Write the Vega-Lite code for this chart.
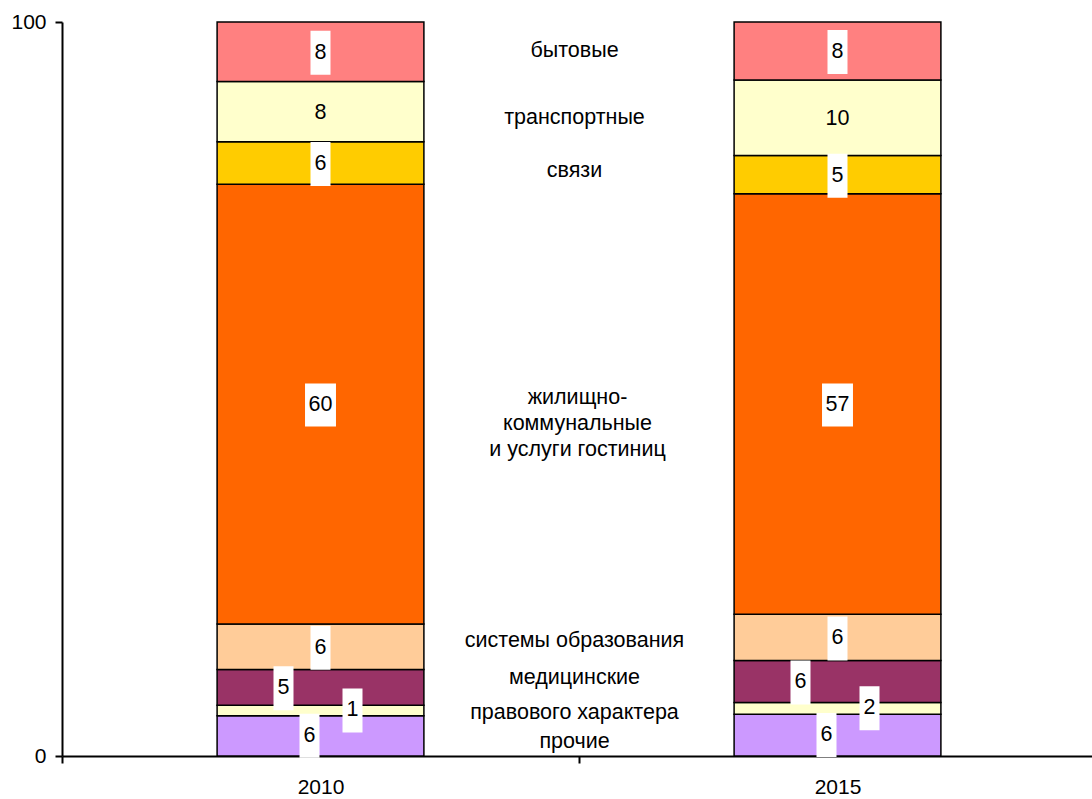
{
  "$schema": "https://vega.github.io/schema/vega-lite/v6.json",
  "width": 1030,
  "height": 734,
  "autosize": {"type": "none"},
  "padding": {"left": 62, "top": 22, "right": 0, "bottom": 43},
  "background": "white",
  "config": {
    "view": {"stroke": null},
    "font": "Liberation Sans",
    "axis": {
      "labelFont": "Liberation Sans",
      "labelFontSize": 21,
      "labelColor": "black",
      "domainColor": "black",
      "tickColor": "black",
      "domainWidth": 2,
      "tickWidth": 2,
      "tickSize": 7,
      "grid": false
    },
    "text": {"fontSize": 21.5, "color": "black", "baseline": "middle", "align": "center"}
  },
  "data": {
    "values": [
      {"year": "2010", "cat": "прочие", "value": 5.5},
      {"year": "2010", "cat": "правового характера", "value": 1.4},
      {"year": "2010", "cat": "медицинские", "value": 4.9},
      {"year": "2010", "cat": "системы образования", "value": 6.2},
      {"year": "2010", "cat": "жилищно-\nкоммунальные\nи услуги гостиниц", "value": 59.9},
      {"year": "2010", "cat": "связи", "value": 5.8},
      {"year": "2010", "cat": "транспортные", "value": 8.2},
      {"year": "2010", "cat": "бытовые", "value": 8.1},
      {"year": "2015", "cat": "прочие", "value": 5.7},
      {"year": "2015", "cat": "правового характера", "value": 1.6},
      {"year": "2015", "cat": "медицинские", "value": 5.7},
      {"year": "2015", "cat": "системы образования", "value": 6.3},
      {"year": "2015", "cat": "жилищно-\nкоммунальные\nи услуги гостиниц", "value": 57.3},
      {"year": "2015", "cat": "связи", "value": 5.2},
      {"year": "2015", "cat": "транспортные", "value": 10.3},
      {"year": "2015", "cat": "бытовые", "value": 7.9}
    ]
  },
  "transform": [
    {"window": [{"op": "row_number", "as": "rank"}], "groupby": ["year"]},
    {"stack": "value", "groupby": ["year"], "sort": [{"field": "rank", "order": "ascending"}], "as": ["y0", "y1"]},
    {"calculate": "(datum.y0 + datum.y1) / 2", "as": "mid"}
  ],
  "encoding": {
    "x": {
      "field": "year",
      "type": "nominal",
      "title": null,
      "scale": {"paddingInner": 0, "paddingOuter": 0, "range": [0, 1034]},
      "axis": {"labelAngle": 0, "tickBand": "extent", "labelPadding": 13, "labelBaseline": "top"}
    },
    "y": {"field": "mid", "type": "quantitative", "title": null}
  },
  "layer": [
    {
      "mark": {"type": "bar", "width": {"band": 0.4}, "stroke": "black", "strokeWidth": 1.5},
      "encoding": {
        "y": {
          "field": "y0",
          "type": "quantitative",
          "title": null,
          "scale": {"domain": [0, 100], "nice": false},
          "axis": {"values": [0, 100], "labelPadding": 9}
        },
        "y2": {"field": "y1"},
        "color": {
          "field": "cat",
          "type": "nominal",
          "legend": null,
          "scale": {
            "domain": ["прочие", "правового характера", "медицинские", "системы образования", "жилищно-\nкоммунальные\nи услуги гостиниц", "связи", "транспортные", "бытовые"],
            "range": ["#CC99FF", "#FFFFCC", "#993366", "#FFCC99", "#FF6600", "#FFCC00", "#FFFFCC", "#FF8080"]
          }
        }
      }
    },
    {
      "transform": [{"filter": {"field": "cat", "oneOf": ["системы образования", "связи", "бытовые"]}}],
      "mark": {"type": "point", "shape": "M-0.4545,-1L0.4545,-1L0.4545,1L-0.4545,1Z", "size": 1936, "filled": true, "color": "white", "opacity": 1, "strokeWidth": 0, "yOffset": 1},
      "encoding": {}
    },
    {
      "transform": [{"filter": {"field": "cat", "oneOf": ["жилищно-\nкоммунальные\nи услуги гостиниц"]}}],
      "mark": {"type": "point", "shape": "M-0.72,-1L0.72,-1L0.72,1L-0.72,1Z", "size": 1849, "filled": true, "color": "white", "opacity": 1, "strokeWidth": 0, "yOffset": 1},
      "encoding": {}
    },
    {
      "transform": [{"filter": {"field": "cat", "oneOf": ["системы образования", "связи", "бытовые", "транспортные", "жилищно-\nкоммунальные\nи услуги гостиниц"]}}],
      "mark": {"type": "text", "yOffset": 1},
      "encoding": {"text": {"field": "value", "type": "quantitative", "format": ".0f"}}
    },
    {
      "transform": [{"filter": {"field": "cat", "equal": "медицинские"}}],
      "layer": [
        {
          "mark": {"type": "point", "shape": "M-0.4545,-1L0.4545,-1L0.4545,1L-0.4545,1Z", "size": 1936, "filled": true, "color": "white", "opacity": 1, "strokeWidth": 0, "xOffset": -37, "yOffset": 1},
          "encoding": {}
        },
        {
          "mark": {"type": "text", "xOffset": -37, "yOffset": 1},
          "encoding": {"text": {"field": "value", "type": "quantitative", "format": ".0f"}}
        }
      ]
    },
    {
      "transform": [{"filter": {"field": "cat", "equal": "правового характера"}}],
      "layer": [
        {
          "mark": {"type": "point", "shape": "M-0.4545,-1L0.4545,-1L0.4545,1L-0.4545,1Z", "size": 1936, "filled": true, "color": "white", "opacity": 1, "strokeWidth": 0, "xOffset": 32},
          "encoding": {}
        },
        {
          "mark": {"type": "text", "xOffset": 32},
          "encoding": {"text": {"field": "value", "type": "quantitative", "format": ".0f"}}
        }
      ]
    },
    {
      "transform": [{"filter": {"field": "cat", "equal": "прочие"}}],
      "layer": [
        {
          "mark": {"type": "point", "shape": "M-0.4545,-1L0.4545,-1L0.4545,1L-0.4545,1Z", "size": 1936, "filled": true, "color": "white", "opacity": 1, "strokeWidth": 0, "xOffset": -11},
          "encoding": {}
        },
        {
          "mark": {"type": "text", "xOffset": -11},
          "encoding": {"text": {"field": "value", "type": "quantitative", "format": ".0f"}}
        }
      ]
    },
    {
      "transform": [{"filter": {"field": "year", "equal": "2015"}}],
      "layer": [
        {
          "transform": [{"filter": {"field": "cat", "oneOf": ["бытовые", "транспортные"]}}],
          "mark": {"type": "text", "xOffset": -263},
          "encoding": {"text": {"field": "cat", "type": "nominal"}}
        },
        {
          "transform": [{"filter": {"field": "cat", "equal": "связи"}}],
          "mark": {"type": "text", "xOffset": -263, "yOffset": -4},
          "encoding": {"text": {"field": "cat", "type": "nominal"}}
        },
        {
          "transform": [{"filter": {"field": "cat", "equal": "системы образования"}}],
          "mark": {"type": "text", "xOffset": -263, "yOffset": 4},
          "encoding": {"text": {"field": "cat", "type": "nominal"}}
        },
        {
          "transform": [{"filter": {"field": "cat", "equal": "медицинские"}}],
          "mark": {"type": "text", "xOffset": -263, "yOffset": -3},
          "encoding": {"text": {"field": "cat", "type": "nominal"}}
        },
        {
          "transform": [{"filter": {"field": "cat", "equal": "правового характера"}}],
          "mark": {"type": "text", "xOffset": -263, "yOffset": 5},
          "encoding": {"text": {"field": "cat", "type": "nominal"}}
        },
        {
          "transform": [{"filter": {"field": "cat", "equal": "прочие"}}],
          "mark": {"type": "text", "xOffset": -263, "yOffset": 7},
          "encoding": {"text": {"field": "cat", "type": "nominal"}}
        },
        {
          "transform": [{"filter": {"field": "cat", "equal": "жилищно-\nкоммунальные\nи услуги гостиниц"}}],
          "mark": {"type": "text", "xOffset": -260, "yOffset": -6, "lineBreak": "\n", "lineHeight": 26},
          "encoding": {"text": {"field": "cat", "type": "nominal"}}
        }
      ]
    }
  ]
}
